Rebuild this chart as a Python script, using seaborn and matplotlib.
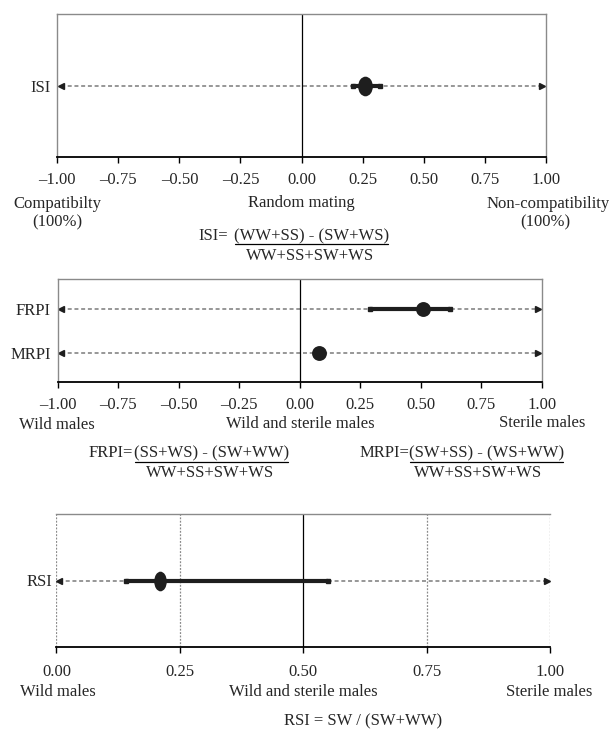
import matplotlib
matplotlib.use("Agg")
import matplotlib.pyplot as plt
from matplotlib.path import Path
from matplotlib.lines import Line2D
from matplotlib.transforms import Affine2D
import numpy as np
import pandas as pd
import seaborn as sns

# ---------------- data ----------------
isi_labels = ["ISI"]
isi_mean = [0.26]
isi_lo = [0.21]
isi_hi = [0.32]

rpi_labels = ["FRPI", "MRPI"]
rpi_mean = [0.51, 0.08]
rpi_lo = [0.29, np.nan]
rpi_hi = [0.62, np.nan]

rsi_labels = ["RSI"]
rsi_mean = [0.21]
rsi_lo = [0.14]
rsi_hi = [0.55]

sym_ticks = [-1.0, -0.75, -0.5, -0.25, 0.0, 0.25, 0.5, 0.75, 1.0]
sym_ticklabels = ["\u20131.00", "\u20130.75", "\u20130.50", "\u20130.25", "0.00",
                  "0.25", "0.50", "0.75", "1.00"]
rsi_ticks = [0.0, 0.25, 0.5, 0.75, 1.0]
rsi_ticklabels = ["0.00", "0.25", "0.50", "0.75", "1.00"]

# ---------------- style ----------------
sns.set_style("white")
plt.rcParams["font.family"] = ["Liberation Serif", "DejaVu Serif"]
plt.rcParams["mathtext.default"] = "regular"
FS = 12
W, H = 609, 729
fig = plt.figure(figsize=(W / 100, H / 100), dpi=100)


def ax_rect(x0, y0, x1, y1):
    return [x0 / W, 1 - y1 / H, (x1 - x0) / W, (y1 - y0) / H]


def px(x, y):
    return x / W, 1 - y / H


def frac_line(x0, x1, y):
    fig.add_artist(Line2D([x0 / W, x1 / W], [1 - y / H, 1 - y / H],
                          transform=fig.transFigure, color="black", lw=0.9))


ell_isi = Path.unit_circle().transformed(Affine2D().scale(0.75, 1.0))
ell_rsi = Path.unit_circle().transformed(Affine2D().scale(0.64, 1.0))

DASH = "#7a7a7a"
DARK = "#1e1e1e"


def style_axes(ax, ticks, ticklabels, xlim, ylim, pad=8):
    ax.set_xlim(*xlim)
    ax.set_ylim(*ylim)
    ax.set_xticks(ticks)
    ax.set_xticklabels(ticklabels, fontsize=FS)
    ax.tick_params(axis="x", direction="out", length=4, width=1, color="black",
                   pad=pad, bottom=True)
    ax.tick_params(axis="y", length=0, pad=5, labelsize=FS)
    ax.set_xlabel("")
    ax.set_ylabel("")
    for s in ["top", "left", "right"]:
        ax.spines[s].set_color("#8a8a8a")
        ax.spines[s].set_linewidth(1.0)
    ax.spines["bottom"].set_color("black")
    ax.spines["bottom"].set_linewidth(1.3)
    ax.grid(False)


def arrows(ax, ys, x0, x1):
    for y in ys:
        ax.plot([x0, x1], [y, y], color=DASH, lw=1.1, ls=(0, (2.6, 1.8)), zorder=1)
        ax.plot([x0], [y], marker="<", color=DARK, ms=5, ls="none", zorder=2)
        ax.plot([x1], [y], marker=">", color=DARK, ms=5, ls="none", zorder=2)


def cis(ax, ys, lo, hi):
    for y, a, b in zip(ys, lo, hi):
        if np.isnan(a):
            continue
        ax.plot([a, b], [y, y], color=DARK, lw=3.0, solid_capstyle="butt", zorder=3)
        ax.plot([a, b], [y, y], marker="s", ms=3.5, color=DARK, ls="none", zorder=3)


# ---------------- panel 1: ISI ----------------
ax1 = fig.add_axes(ax_rect(57.3, 14, 545.7, 157))
df1 = pd.DataFrame({"label": isi_labels, "value": isi_mean})
arrows(ax1, [0], -0.985, 0.985)
ax1.axvline(0, color="black", lw=0.9, zorder=1.5)
cis(ax1, [0], isi_lo, isi_hi)
sns.scatterplot(data=df1, x="value", y="label", ax=ax1, marker=ell_isi, s=200,
                color=DARK, edgecolor=DARK, linewidth=0, zorder=4, legend=False)
style_axes(ax1, sym_ticks, sym_ticklabels, (-1, 1), (1, -1), pad=6.5)

fig.text(*px(57, 204), "Compatibilty", ha="center", va="center", fontsize=FS)
fig.text(*px(57, 222), "(100%)", ha="center", va="center", fontsize=FS)
fig.text(*px(301, 203), "Random mating", ha="center", va="center", fontsize=FS)
fig.text(*px(548, 204), "Non-compatibility", ha="center", va="center", fontsize=FS)
fig.text(*px(545, 222), "(100%)", ha="center", va="center", fontsize=FS)

fig.text(*px(228, 236), "ISI=", ha="right", va="center", fontsize=FS)
fig.text(*px(312, 236), "(WW+SS) - (SW+WS)", ha="center", va="center", fontsize=FS)
frac_line(235, 388, 244)
fig.text(*px(310, 256), "WW+SS+SW+WS", ha="center", va="center", fontsize=FS)

# ---------------- panel 2: FRPI / MRPI ----------------
ax2 = fig.add_axes(ax_rect(57.5, 279, 541.7, 382))
df2 = pd.DataFrame({"label": rpi_labels, "value": rpi_mean})
arrows(ax2, [0, 1], -0.985, 0.985)
ax2.axvline(0, color="black", lw=0.9, zorder=1.5)
cis(ax2, [0, 1], rpi_lo, rpi_hi)
sns.scatterplot(data=df2, x="value", y="label", ax=ax2, marker="o", s=115,
                color=DARK, edgecolor=DARK, linewidth=0, zorder=4, legend=False)
style_axes(ax2, sym_ticks, sym_ticklabels, (-1, 1), (1.65, -0.67), pad=7)

fig.text(*px(57, 425), "Wild males", ha="center", va="center", fontsize=FS)
fig.text(*px(300, 424), "Wild and sterile males", ha="center", va="center", fontsize=FS)
fig.text(*px(542, 423), "Sterile males", ha="center", va="center", fontsize=FS)

fig.text(*px(133, 453), "FRPI=", ha="right", va="center", fontsize=FS)
fig.text(*px(212, 453), "(SS+WS) - (SW+WW)", ha="center", va="center", fontsize=FS)
frac_line(135, 288, 462)
fig.text(*px(210, 473), "WW+SS+SW+WS", ha="center", va="center", fontsize=FS)

fig.text(*px(409, 453), "MRPI=", ha="right", va="center", fontsize=FS)
fig.text(*px(487, 453), "(SW+SS) - (WS+WW)", ha="center", va="center", fontsize=FS)
frac_line(410, 563, 462)
fig.text(*px(478, 473), "WW+SS+SW+WS", ha="center", va="center", fontsize=FS)

# ---------------- panel 3: RSI ----------------
ax3 = fig.add_axes(ax_rect(56.4, 514, 550.3, 647))
df3 = pd.DataFrame({"label": rsi_labels, "value": rsi_mean})
for xv in [0.0, 0.25, 0.75, 1.0]:
    ax3.axvline(xv, color="#8a8a8a", lw=0.9, ls=(0, (1.5, 1.2)), zorder=0.5)
ax3.axvline(0.5, color="black", lw=0.9, zorder=0.5)
arrows(ax3, [0], 0.006, 0.993)
cis(ax3, [0], rsi_lo, rsi_hi)
sns.scatterplot(data=df3, x="value", y="label", ax=ax3, marker=ell_rsi, s=200,
                color=DARK, edgecolor=DARK, linewidth=0, zorder=4, legend=False)
style_axes(ax3, rsi_ticks, rsi_ticklabels, (0, 1), (1, -1), pad=8.5)
ax3.spines["left"].set_visible(False)
ax3.spines["right"].set_visible(False)
ax3.tick_params(axis="y", pad=3)

fig.text(*px(58, 692), "Wild males", ha="center", va="center", fontsize=FS)
fig.text(*px(303, 692), "Wild and sterile males", ha="center", va="center", fontsize=FS)
fig.text(*px(549, 692), "Sterile males", ha="center", va="center", fontsize=FS)
fig.text(*px(363, 721), "RSI = SW / (SW+WW)", ha="center", va="center", fontsize=FS)

fig.savefig("out.png", dpi=100)
